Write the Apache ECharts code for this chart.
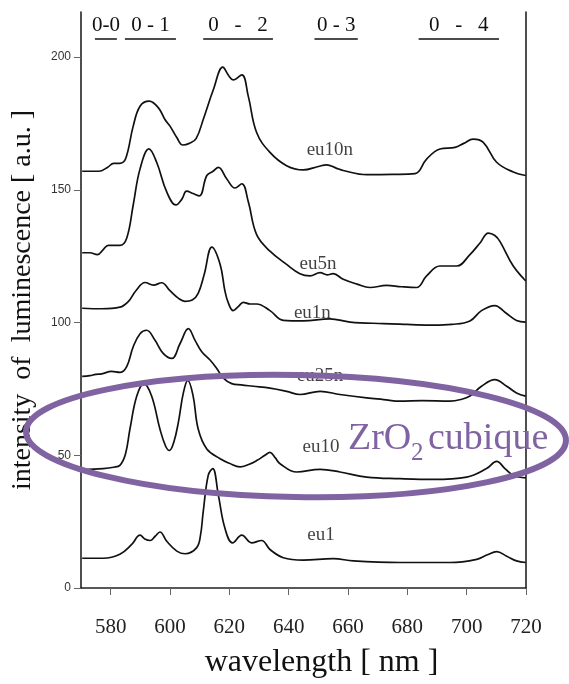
<!DOCTYPE html>
<html>
<head>
<meta charset="utf-8">
<script src="https://cdn.jsdelivr.net/npm/echarts@6/dist/echarts.min.js"></script>
<style>
html,body{margin:0;padding:0;background:#fff;}
#chart{width:569px;height:684px;}
</style>
</head>
<body>
<div id="chart"></div>
<script>
// ---- data (wavelength nm, intensity a.u.) ----
const xTicks = [580, 600, 620, 640, 660, 680, 700, 720];
const yTicks = [0, 50, 100, 150, 200];

const eu10n = [[570.4,157],[576,157],[579,158.5],[581,160],[583,160],[585,161.6],[587.6,174],[589.9,181.5],[593,183.4],[596.1,180.9],[598.3,176.5],[600,174],[602.3,169.7],[604.3,166.9],[606.5,167.5],[608.8,169.3],[611.2,176.5],[614.6,187.7],[617.8,196.2],[619.8,193],[621.3,191.4],[624.2,193.3],[626.4,185.2],[629.2,171.6],[633.7,164.1],[639.3,159.1],[644.9,157.5],[650,158.8],[652.8,159.4],[656,158.2],[658.4,157.3],[666.3,155.7],[675,155.8],[682.6,156.1],[686.5,161.6],[691,165.4],[696.1,166],[699,167.5],[702.2,169.1],[705.6,167.9],[710.1,160.4],[715.7,156.7],[719.9,155.4]];

const eu5n = [[570.4,126.3],[573,126.3],[575.5,125.6],[577.5,127.5],[579.2,129.1],[583.1,129.1],[585.4,131.8],[587.6,144.3],[589.9,157.9],[592.9,165.4],[595.5,160.4],[598.9,149.2],[602,144.3],[604,146.5],[605.6,149.5],[607.8,148.6],[609.9,147.7],[612.4,155.4],[614.5,157],[616.3,158.5],[619.1,154.2],[621.9,150.7],[624.2,152.3],[626.4,145.5],[629.2,133.1],[633.7,126.9],[639.3,121.9],[643.8,118.4],[647.2,117.6],[650.6,118.8],[653,118],[655,118.4],[658.4,116.3],[663,114.5],[667.4,113.2],[673,114],[678,113.5],[683.1,113.2],[686.5,117.6],[691,121.3],[696.6,121.3],[701.1,125.6],[704.5,130],[707.3,133.7],[709.5,132.8],[711.2,130.6],[715.7,121.3],[719.9,115.7]];

const eu1n = [[570.4,105.4],[577,105.2],[583.1,105.8],[586,108],[588.5,112],[591.6,115.1],[594.4,114.1],[597.2,115],[600,112],[603,109],[605,108],[607.5,108.5],[609.5,111],[611.5,118],[614.1,128.4],[616.9,121.9],[618.5,112],[619.6,107.6],[621.3,104.5],[623,106],[624.7,107.6],[627,107],[629.2,107],[633.7,104.5],[638.2,100.8],[644.9,100.6],[653.9,101.4],[660.7,100.2],[671.9,99.6],[680,99.3],[688.8,99],[695,99.3],[701.1,100.6],[705,104.5],[709.5,106.4],[712.9,103.9],[716.8,100.8],[719.9,100.2]];

const eu25n = [[570.4,79.7],[573,80],[575,80.5],[577,80.7],[580.3,81.6],[583.1,81.2],[585.4,83.4],[587.6,90.9],[589.9,95.8],[592.1,97.1],[594.9,93.4],[597.7,88.4],[600.6,86.5],[603.4,92.1],[606.2,97.7],[608.4,93.4],[610.7,89],[613.5,85.9],[615.7,82.8],[618,79.1],[620.8,77],[624,76.5],[628.1,76],[633.7,75.3],[639.3,74.1],[643.8,72.9],[650.6,74.1],[657.3,72.9],[666.3,71.6],[672,71],[677.5,70.4],[685,70.6],[694.4,70.4],[698,71],[701.1,72.3],[705,76],[709.5,78.5],[713.5,76],[716.8,73.5],[719.9,72.3]];

const eu10 = [[570.4,44.7],[577.5,45],[581,45.5],[583.1,46.2],[585,50.5],[586.5,59.9],[588.8,72.3],[591.2,77],[593.8,72.3],[596.6,59.9],[598.5,53.5],[599.8,51.8],[601.3,55],[602.8,62.3],[604.5,73.5],[606,78.2],[607.8,72.3],[609.5,59.9],[612.4,52.4],[616.9,48.7],[620,47],[623.6,45.6],[626.5,46.5],[629.2,48],[632,50],[633.7,51.1],[635.5,49],[637.1,46.8],[642.7,43.7],[650.6,44.7],[657.3,43.7],[666.3,41.8],[677.5,41.2],[688.8,40.9],[700,41.8],[706.7,45],[710.1,47.7],[712.9,45],[715.7,42.5],[719.9,41.5]];

const eu1 = [[570.4,11.2],[577.5,11.2],[583.1,12.7],[587.1,16.4],[589.9,19.9],[591.5,18.5],[593.3,17.9],[595,19.5],[596.6,21.1],[598.9,17.6],[602.3,13.9],[605.1,12.9],[609,15.2],[610.3,20],[611.2,28.8],[612.9,42.5],[614.4,45],[616.3,35],[618.5,22.6],[621.1,17],[624.2,19.9],[627.5,17],[630.9,17.9],[633.7,14.5],[638.2,11.4],[644.9,10.5],[655,11.1],[661.8,10.2],[677.5,9.6],[694.4,9.6],[703.4,10.8],[707,12.5],[710.1,13.7],[713.5,12],[716.8,10.2],[719.9,9.6]];

const seriesNames = ['eu10n', 'eu5n', 'eu1n', 'eu25n', 'eu10', 'eu1'];
const seriesData = [eu10n, eu5n, eu1n, eu25n, eu10, eu1];
// label anchor (nm, intensity) for each curve name
const labelPos = [[653.9,165.1],[649.9,121.9],[648.0,103.5],[650.6,80.0],[650.9,53.0],[650.9,20.1]];

// vibronic band markers: [start nm, end nm, text]
const bandStart = [574.7, 584.8, 611.2, 648.7, 683.8];
const bandEnd   = [582.1, 602.0, 634.7, 663.3, 710.9];
const bandText  = ['0-0', '0 - 1', '0   -   2', '0 - 3', '0   -   4'];
const bandLevel = 207.1;

const serif = 'Liberation Serif, Times New Roman, serif';
const sans = 'Liberation Sans, Arial, sans-serif';

const chart = echarts.init(document.getElementById('chart'), null, {renderer: 'canvas'});

const series = seriesData.map((d, i) => ({
  name: seriesNames[i],
  type: 'line',
  data: d,
  smooth: 0.4,
  showSymbol: false,
  symbol: 'none',
  lineStyle: {color: '#111', width: 1.7},
  z: 3
}));

series.push({
  name: 'labels',
  type: 'scatter',
  data: labelPos.map((p, i) => [p[0], p[1], seriesNames[i]]),
  symbolSize: 0,
  label: {
    show: true,
    position: 'inside',
    formatter: p => p.value[2],
    fontFamily: serif,
    fontSize: 19,
    color: '#111'
  },
  z: 4
});

series.push({
  name: 'bands',
  type: 'line',
  data: [],
  markLine: {
    silent: true,
    symbol: ['none', 'none'],
    lineStyle: {color: '#111', width: 1.5, type: 'solid'},
    label: {
      show: true,
      position: 'insideMiddleTop',
      distance: 2,
      fontFamily: serif,
      fontSize: 21,
      color: '#111',
      formatter: p => p.name
    },
    data: bandStart.map((s, i) => [
      {coord: [s, bandLevel], name: bandText[i]},
      {coord: [bandEnd[i], bandLevel]}
    ])
  }
});

chart.setOption({
  animation: false,
  backgroundColor: '#fff',
  grid: {left: 81, right: 43, top: 12, bottom: 90, containLabel: false},
  xAxis: {
    type: 'value',
    min: 570,
    max: 720,
    name: 'wavelength [ nm ]',
    nameLocation: 'middle',
    nameGap: 59,
    nameTextStyle: {fontFamily: serif, fontSize: 32, color: '#111', padding: [0, 0, 0, 36]},
    axisLine: {show: true, onZero: false, lineStyle: {color: '#222', width: 1.6}},
    axisTick: {show: true, length: 7, customValues: xTicks, lineStyle: {color: '#666', width: 1}},
    axisLabel: {customValues: xTicks, margin: 29, fontFamily: serif, fontSize: 21, color: '#222'},
    splitLine: {show: false}
  },
  yAxis: [{
    type: 'value',
    min: 0,
    max: 217,
    name: 'intensity  of  luminescence [ a.u. ]',
    nameLocation: 'middle',
    nameGap: 44,
    nameRotate: 90,
    nameTextStyle: {fontFamily: serif, fontSize: 28, color: '#111'},
    axisLine: {show: true, lineStyle: {color: '#222', width: 1.6}},
    axisTick: {show: true, length: 7, customValues: yTicks, lineStyle: {color: '#666', width: 1}},
    axisLabel: {customValues: yTicks, margin: 10, fontFamily: sans, fontSize: 12, color: '#333'},
    splitLine: {show: false}
  }, {
    type: 'value',
    position: 'right',
    min: 0,
    max: 217,
    axisLine: {show: true, lineStyle: {color: '#222', width: 1.6}},
    axisTick: {show: false},
    axisLabel: {show: false},
    splitLine: {show: false}
  }],
  series: series,
  graphic: [
    {
      type: 'ellipse',
      x: 296, y: 436,
      rotation: -0.017,
      shape: {cx: 0, cy: 0, rx: 270, ry: 61},
      style: {fill: 'none', stroke: '#8064A2', lineWidth: 6},
      z: 100
    },
    {
      type: 'text',
      x: 348, y: 439,
      style: {text: 'ZrO', fontFamily: serif, fontSize: 38, fill: '#8064A2', verticalAlign: 'middle', align: 'left'},
      z: 101
    },
    {
      type: 'text',
      x: 411, y: 453,
      style: {text: '2', fontFamily: serif, fontSize: 25, fill: '#8064A2', verticalAlign: 'middle', align: 'left'},
      z: 101
    },
    {
      type: 'text',
      x: 428, y: 439,
      style: {text: 'cubique', fontFamily: serif, fontSize: 38, fill: '#8064A2', verticalAlign: 'middle', align: 'left'},
      z: 101
    }
  ]
});
</script>
</body>
</html>
